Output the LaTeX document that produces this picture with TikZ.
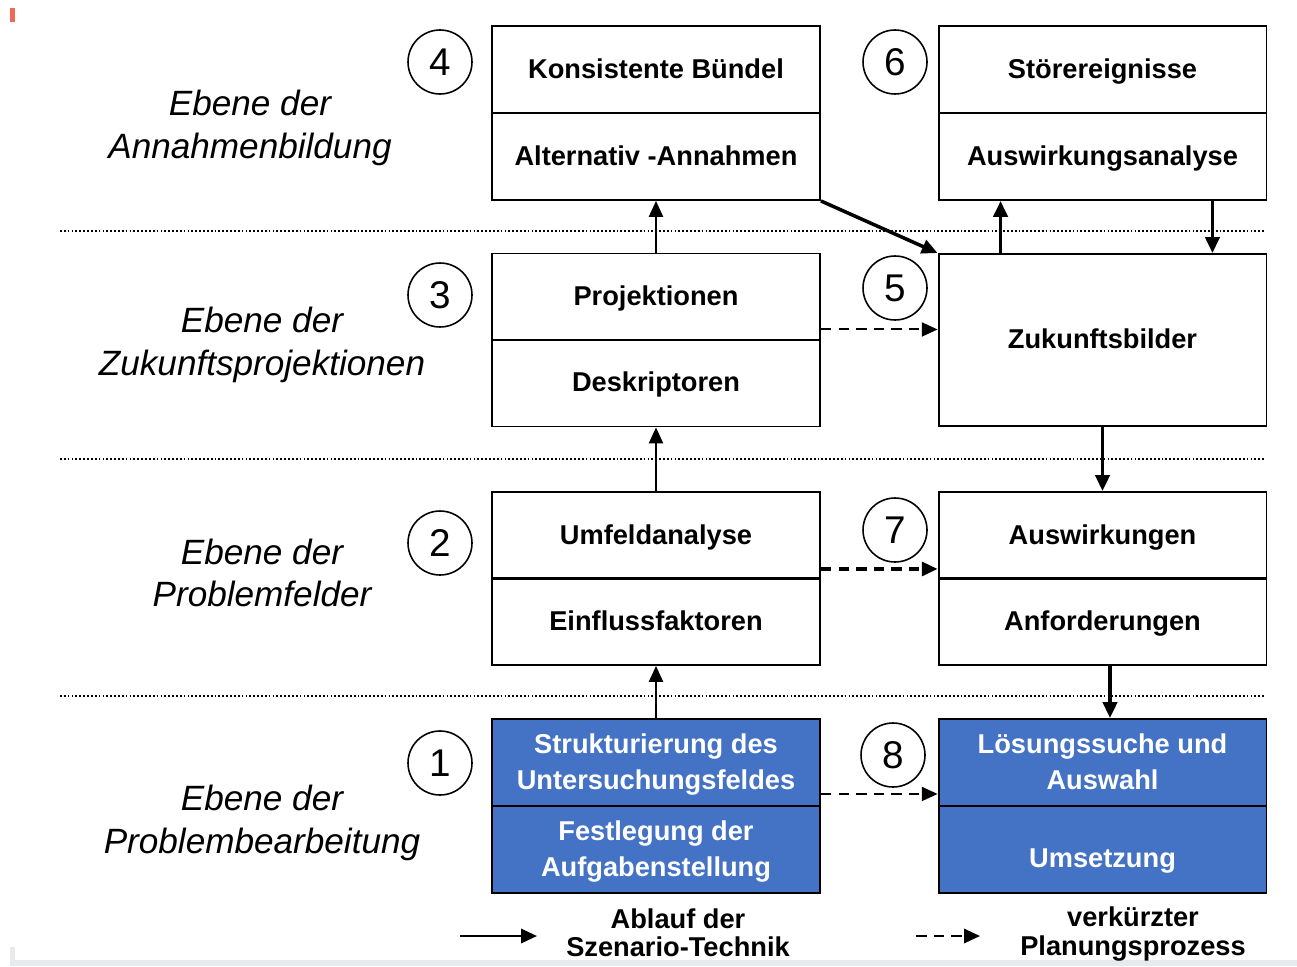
\documentclass[tikz,border=0pt]{standalone}
\usepackage{fontspec}
\setmainfont{Liberation Sans}
\usetikzlibrary{arrows.meta,calc,positioning}
\definecolor{stepblue}{HTML}{4472C4}
\definecolor{edgegray}{HTML}{E8EBEE}
\definecolor{markred}{HTML}{EE6A55}

\begin{document}
\begin{tikzpicture}[x=0.02cm,y=-0.02cm,every node/.style={inner sep=2pt},
        >={Triangle[length=9pt,width=8pt]},
        box/.style={draw,line width=1.1pt,minimum width=6.56cm,minimum height=1.74cm,
          text depth=1pt,font=\fontsize{15.5}{18}\selectfont\bfseries},
        bluebox/.style={box,fill=stepblue,text=white,align=center,
          font=\fontsize{15.5}{20}\selectfont\bfseries},
        num/.style={draw,circle,line width=0.9pt,minimum size=1.28cm,inner sep=0pt,
          font=\fontsize{22}{22}\selectfont},
        level/.style={align=center,font=\fontsize{20}{24.4}\selectfont\itshape},
        legend/.style={align=center,font=\fontsize{15.5}{16}\selectfont\bfseries},
        sep/.style={line width=0.8pt,dash pattern=on 1pt off 1.2pt},
        flow/.style={->,line width=1.1pt},
        mainflow/.style={->,line width=2pt},
        short/.style={->,line width=1.1pt,dash pattern=on 6pt off 4pt}]
        \useasboundingbox (0,0) rectangle (1297,966);
        % scan edges
        \fill[markred](10,8) rectangle (15,22);
        \fill[edgegray](10,947) rectangle (15,966);
        \fill[edgegray](10,960) rectangle (1297,966);
        % level separators
        \foreach \y in {231,459,696}
          \draw[sep](60,\y)--(1265,\y);
        % levels
        \node[level](lv4) at (250,128) {Ebene der\\Annahmenbildung};
        \node[level](lv3) at (262,345) {Ebene der\\Zukunftsprojektionen};
        \node[level](lv2) at (262,573) {Ebene der\\Problemfelder};
        \node[level](lv1) at (262,823) {Ebene der\\Problembearbeitung};
        % steps
        \node[box](kons) at (656,69.5) {Konsistente Bündel};
        \node[box](alt) at (656,156.5) {Alternativ -Annahmen};
        \node[box](stoer) at (1102.5,69.5) {Störereignisse};
        \node[box](ausw) at (1102.5,156.5) {Auswirkungsanalyse};
        \node[box](proj) at (656,297) {Projektionen};
        \node[box](desk) at (656,383) {Deskriptoren};
        \node[box,minimum height=3.44cm](zuk) at (1102.5,340) {Zukunftsbilder};
        \node[box](umf) at (656,535.5) {Umfeldanalyse};
        \node[box](einf) at (656,621.5) {Einflussfaktoren};
        \node[box](awk) at (1102.5,535.5) {Auswirkungen};
        \node[box](anf) at (1102.5,621.5) {Anforderungen};
        \node[bluebox](strukt) at (656,762.5) {Strukturierung des\\Untersuchungsfeldes};
        \node[bluebox](festl) at (656,849.5) {Festlegung der\\Aufgabenstellung};
        \node[bluebox](loes) at (1102.5,762.5) {Lösungssuche und\\Auswahl};
        \node[bluebox,text height=21pt](ums) at (1102.5,849.5) {Umsetzung};
        % numbers
        \node[num](n4) at (440,62) {4};
        \node[num](n6) at (895,62) {6};
        \node[num](n3) at (440,295) {3};
        \node[num](n5) at (895,288) {5};
        \node[num](n2) at (440,543) {2};
        \node[num](n7) at (895,530) {7};
        \node[num](n1) at (440,763) {1};
        \node[num](n8) at (893,755) {8};
        % scenario flow
        \draw[flow](strukt.north)--(einf.south);
        \draw[flow](umf.north)--(desk.south);
        \draw[flow](proj.north)--(alt.south);
        \draw[mainflow](alt.south east)--(zuk.north west);
        \coordinate(u5) at ([xshift=1.26cm]zuk.north west);
        \coordinate(d6) at ([xshift=-1.1cm]ausw.south east);
        \coordinate(d7) at ([xshift=0.15cm]anf.south);
        \draw[mainflow](u5)--(u5 |- ausw.south);
        \draw[mainflow](d6)--(d6 |- zuk.north);
        \draw[mainflow](zuk.south)--(awk.north);
        \draw[mainflow](d7)--(d7 |- loes.north);
        % short cuts
        \coordinate(s3) at ([yshift=0.24cm]proj.south east);
        \coordinate(s2) at ([yshift=0.22cm]umf.south east);
        \coordinate(s1) at ([yshift=0.26cm]strukt.south east);
        \draw[short](s3)--(s3 -| zuk.west);
        \draw[short,line width=1.8pt](s2)--(s2 -| awk.west);
        \draw[short](s1)--(s1 -| loes.west);
        % legend
        \coordinate(la) at (460,936);
        \coordinate(lb) at (537,936);
        \coordinate(lc) at (916,936);
        \coordinate(ld) at (980,936);
        \draw[->,line width=1.5pt](la)--(lb);
        \draw[short,line width=1.5pt](lc)--(ld);
        \node[legend](leg1) at (678,933) {Ablauf der\\Szenario-Technik};
        \node[legend](leg2) at (1133,934) {verkürzter\\Planungsprozess};
     \end{tikzpicture}
\end{document}
